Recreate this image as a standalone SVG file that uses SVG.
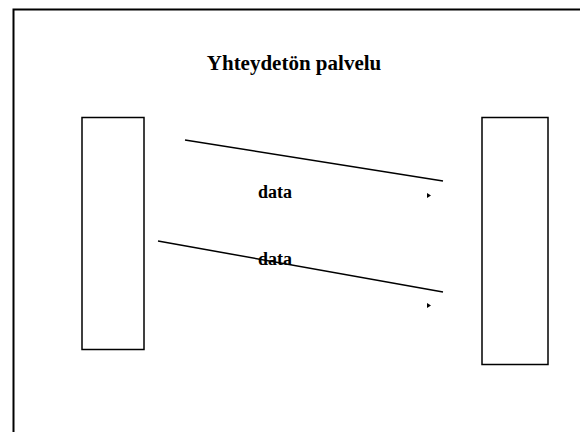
<svg xmlns="http://www.w3.org/2000/svg" width="580" height="432" viewBox="0 0 580 432">
<style>
.frame{fill:none;stroke:#000;stroke-width:2}
.box{fill:#fff;stroke:#000;stroke-width:1.5}
.ln{fill:none;stroke:#000;stroke-width:1.5}
.title{font-family:"Liberation Serif",serif;font-weight:bold;font-size:21px;fill:#000}
.lbl{font-family:"Liberation Serif",serif;font-weight:bold;font-size:18px;fill:#000}
.ah{fill:#000}
</style>
<rect width="580" height="432" fill="#fff"/>
<path class="frame" d="M13.5,432 V9.5 H580"/>
<text class="title" x="294" y="70" text-anchor="middle">Yhteydetön palvelu</text>
<g id="sender"><rect class="box" x="82" y="117.5" width="62" height="232"/></g>
<g id="receiver"><rect class="box" x="482" y="117.5" width="66" height="247"/></g>
<g id="connectors">
<line class="ln" x1="185" y1="140" x2="443" y2="181"/>
<polygon class="ah" points="427,193 431,195.5 427,198"/>
<line class="ln" x1="158" y1="241" x2="443" y2="292"/>
<polygon class="ah" points="427,303 431,305.5 427,308"/>
</g>
<text class="lbl" x="258" y="198">data</text>
<text class="lbl" x="258" y="265">data</text>
</svg>
